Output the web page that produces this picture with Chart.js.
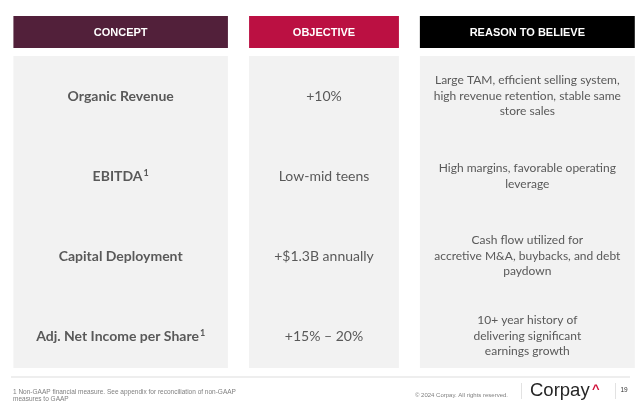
<!DOCTYPE html>
<html>
<head>
<meta charset="utf-8">
<script src="https://cdn.jsdelivr.net/npm/chart.js@4.4.1/dist/chart.umd.min.js"></script>
<style>
  html, body { margin: 0; padding: 0; background: #fff; }
  #wrap { width: 640px; height: 412px; }
</style>
</head>
<body>
<div id="wrap"><canvas id="myChart" width="640" height="412"></canvas></div>
<script>
// Table content
const columns = ["CONCEPT", "OBJECTIVE", "REASON TO BELIEVE"];
const concepts = ["Organic Revenue", "EBITDA¹", "Capital Deployment", "Adj. Net Income per Share¹"];
const objectives = ["+10%", "Low-mid teens", "+$1.3B annually", "+15% \u2013 20%"];
const reasons = [
  ["Large TAM, efficient selling system,", "high revenue retention, stable same", "store sales"],
  ["High margins, favorable operating", "leverage"],
  ["Cash flow utilized for", "accretive M&A, buybacks, and debt", "paydown"],
  ["10+ year history of", "delivering significant", "earnings growth"],
];
const footnote = ["1 Non-GAAP financial measure. See appendix for reconciliation of non-GAAP", "measures to GAAP"];
const copyright = "\u00a9 2024 Corpay. All rights reserved.";
const pageNumber = "19";

const headerColors = ["#52203a", "#bb1042", "#000000"];
const columnWidths = [1.055, 0.737, 1.057]; // share of a category slot
const rowCount = concepts.length;

// one panel + one header bar per column, each in its own slot
const datasets = [];
columns.forEach((c, i) => {
  const panel = columns.map((_, j) => (j === i ? [0.5, rowCount + 0.4] : null));
  const header = columns.map((_, j) => (j === i ? [0, 0.4] : null));
  datasets.push({
    label: c + " panel",
    data: panel,
    backgroundColor: "#f2f2f2",
    barPercentage: columnWidths[i],
    categoryPercentage: 1,
    grouped: false,
    clip: false,
  });
  datasets.push({
    label: c,
    data: header,
    backgroundColor: headerColors[i],
    barPercentage: columnWidths[i],
    categoryPercentage: 1,
    grouped: false,
    clip: false,
  });
});

// centred text where a trailing "¹" is drawn as a raised small digit
function drawSup(ctx, text, x, y, font, supFont) {
  if (!text.endsWith("¹")) {
    ctx.font = font;
    ctx.fillText(text, x, y);
    return;
  }
  const base = text.slice(0, -1);
  ctx.font = font;
  const wb = ctx.measureText(base).width;
  ctx.font = supFont;
  const ws = ctx.measureText("1").width;
  const left = x - (wb + ws + 1) / 2;
  ctx.save();
  ctx.textAlign = "left";
  ctx.font = font;
  ctx.fillText(base, left, y);
  ctx.font = supFont;
  ctx.fillText("1", left + wb + 1, y - 2.5);
  ctx.restore();
}

const textPlugin = {
  id: "tableText",
  afterDatasetsDraw(chart) {
    const ctx = chart.ctx;
    const y = chart.scales.y;
    const colX = columns.map((_, i) => chart.getDatasetMeta(i * 2).data[i].x);
    ctx.save();
    ctx.textAlign = "center";
    ctx.textBaseline = "middle";

    // header labels
    ctx.fillStyle = "#ffffff";
    ctx.font = "bold 11px 'Liberation Sans', Arial, sans-serif";
    columns.forEach((c, i) => ctx.fillText(c, colX[i], y.getPixelForValue(0.2) + 0.5));

    ctx.fillStyle = "#595959";
    for (let r = 0; r < rowCount; r++) {
      const cy = y.getPixelForValue(r + 1);
      drawSup(ctx, concepts[r], colX[0], cy, "bold 14px Lato, sans-serif", "bold 9px Lato, sans-serif");
      ctx.font = "14px Lato, sans-serif";
      ctx.fillText(objectives[r], colX[1], cy);
      ctx.font = "12px Lato, sans-serif";
      const lines = reasons[r];
      const lh = 15.5;
      const start = cy - ((lines.length - 1) * lh) / 2;
      lines.forEach((l, k) => ctx.fillText(l, colX[2], start + k * lh));
    }

    // footer
    ctx.fillStyle = "#eeeeee";
    ctx.fillRect(11, 376, 619, 2);
    ctx.fillStyle = "#e2e2e2";
    ctx.fillRect(521, 383, 1, 16);
    ctx.fillRect(615, 383, 1, 16);

    ctx.textAlign = "left";
    ctx.fillStyle = "#808080";
    ctx.font = "6.5px 'Liberation Sans', Arial, sans-serif";
    ctx.fillText(footnote[0], 13, 392);
    ctx.fillText(footnote[1], 13, 399.5);
    ctx.font = "6px 'Liberation Sans', Arial, sans-serif";
    ctx.fillText(copyright, 415, 395);

    ctx.textBaseline = "alphabetic";
    ctx.fillStyle = "#262626";
    ctx.font = "18.5px 'Liberation Sans', Arial, sans-serif";
    ctx.fillText("Corpay", 530, 396);
    ctx.fillStyle = "#d0103a";
    ctx.font = "bold 13px 'Liberation Sans', Arial, sans-serif";
    ctx.fillText("^", 592, 393);

    ctx.textBaseline = "middle";
    ctx.fillStyle = "#333333";
    ctx.textAlign = "center";
    ctx.font = "6.5px 'Liberation Sans', Arial, sans-serif";
    ctx.fillText(pageNumber, 624, 390);
    ctx.restore();
  },
};

new Chart(document.getElementById("myChart").getContext("2d"), {
  type: "bar",
  data: { labels: columns, datasets: datasets },
  options: {
    responsive: false,
    animation: false,
    events: [],
    layout: { padding: { left: 19, right: 11, top: 0, bottom: 0 } },
    plugins: { legend: { display: false }, tooltip: { enabled: false } },
    scales: {
      x: { display: false, offset: true },
      y: { display: false, reverse: true, min: -0.2, max: 4.95 },
    },
  },
  plugins: [textPlugin],
});
</script>
</body>
</html>
